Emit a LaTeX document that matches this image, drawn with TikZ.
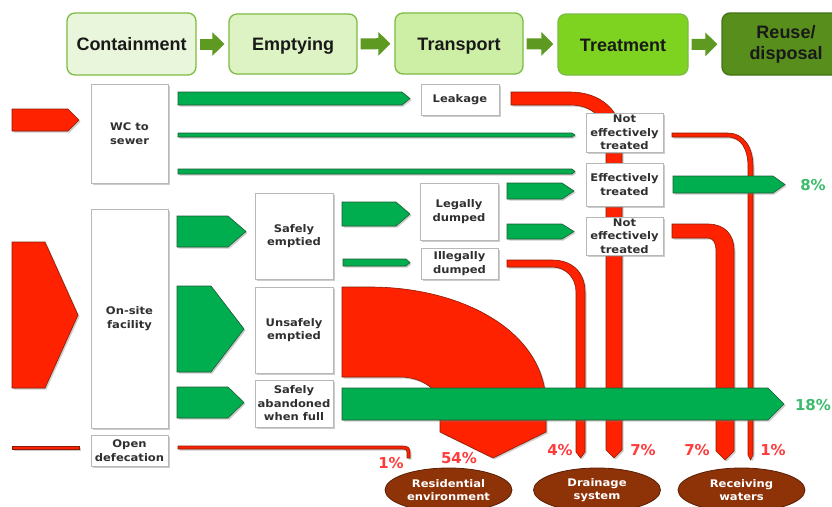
\documentclass[tikz,border=0pt]{standalone}
\usepackage{fontspec}
\setmainfont{DejaVu Sans}
\newfontfamily\hdrfont{Liberation Sans}
\newfontfamily\boxfont{DejaVu Sans}[FakeStretch=1.1]
\usetikzlibrary{shapes.geometric,shadows,arrows.meta}
\definecolor{gF}{HTML}{00AD4F}
\definecolor{gD}{HTML}{1F5C33}
\definecolor{rF}{HTML}{FF2200}
\definecolor{rD}{HTML}{8A1A05}
\definecolor{pR}{HTML}{FF3B3B}
\definecolor{pG}{HTML}{3DBB6C}
\definecolor{brn}{HTML}{8E3208}
\definecolor{brnD}{HTML}{5A1F05}
\definecolor{boxT}{HTML}{303030}
\definecolor{boxB}{HTML}{B8B8B8}
\definecolor{stB}{HTML}{7DBB42}
\definecolor{hA}{HTML}{5E9A22}
\definecolor{fCont}{HTML}{EAF6DC}
\definecolor{fEmpt}{HTML}{DDF3C4}
\definecolor{fTrans}{HTML}{CDEEA5}
\definecolor{fTreat}{HTML}{7ED321}
\definecolor{fReuse}{HTML}{578E1C}
\tikzset{
  shd/.style={drop shadow={shadow xshift=1.5pt,shadow yshift=-1.5pt,opacity=0.4}},
  flowG/.style={fill=gF,draw=gD,line width=0.6pt,shd},
  flowR/.style={fill=rF,draw=rD,line width=0.6pt,shd},
  box/.style={draw=boxB,line width=0.8pt,fill=white,shd,inner sep=0pt,align=center,text=boxT,
    font=\boxfont\bfseries\fontsize{10.5}{13.5}\selectfont},
  stage/.style={rounded corners=8pt,line width=1.3pt,draw=stB,inner sep=0pt,align=center,text=black!90,
    font=\hdrfont\bfseries\fontsize{18}{21}\selectfont},
  oneline/.style={text height=13pt,text depth=0pt},
  harr/.style={draw=hA,line width=11pt,-{Triangle[length=12pt,width=23pt]},shorten <=3pt,shorten >=4pt},
  sink/.style={ellipse,fill=brn,draw=brnD,line width=0.8pt,text=white,align=center,inner sep=0pt,
    minimum width=127pt,minimum height=44pt,font=\boxfont\bfseries\fontsize{10.5}{13.5}\selectfont},
  pctR/.style={text=pR,font=\bfseries\fontsize{15}{15}\selectfont},
  pctG/.style={text=pG,font=\bfseries\fontsize{15}{15}\selectfont},
}
\newcommand\flowarrow[6]{\draw[#1] (#2,#3) -- ({#4-#6},#3) -- (#4,{(#3+#5)/2}) -- ({#4-#6},#5) -- (#2,#5) -- cycle;}
\begin{document}
\begin{tikzpicture}[x=1pt,y=-1pt]
\fill[white] (0,0) rectangle (832,506);
\clip (0,0) rectangle (832,506);

% ---- stage header ----
\node[stage,oneline,fill=fCont,minimum width=129pt,minimum height=62pt] (cont) at (131.5,44) {Containment};
\node[stage,oneline,fill=fEmpt,minimum width=128pt,minimum height=60pt] (empt) at (293,44) {Emptying};
\node[stage,oneline,fill=fTrans,minimum width=128pt,minimum height=61pt] (trans) at (459,43.5) {Transport};
\node[stage,oneline,fill=fTreat,minimum width=130pt,minimum height=61pt] (treat) at (623,44.5) {Treatment};
\node[stage,fill=fReuse,draw=fReuse!80!black,minimum width=128pt,minimum height=62pt] (reuse) at (786,44) {Reuse/\\disposal};
\draw[harr] (cont) -- (empt);
\draw[harr] (empt) -- (trans);
\draw[harr] (trans) -- (treat);
\draw[harr] (treat) -- (reuse);

% ---- red flows (below everything) ----
% leakage
\draw[flowR] (511,92) -- (570,92) .. controls (600,92) and (622,110) .. (622,140) -- (622,450) -- (614,458) -- (606,450) -- (606,140) .. controls (606,118) and (592,105) .. (570,105) -- (511,105) -- cycle;
% not effectively treated (sewer) -> receiving waters
\draw[flowR] (672,133) -- (727,133) .. controls (745,133) and (753,148) .. (753,167) -- (753,455) -- (750.5,460) -- (748,455) -- (748,167) .. controls (748,150) and (742,137) .. (727,137) -- (672,137) -- cycle;
% not effectively treated (FS) -> receiving waters
\draw[flowR] (672,224) -- (708,224) .. controls (724,224) and (734,234) .. (734,250) -- (734,451) -- (725,460) -- (716,451) -- (716,250) .. controls (716,243) and (713,238) .. (708,238) -- (672,238) -- cycle;
% illegally dumped -> drainage
\draw[flowR] (507,260) -- (552,260) .. controls (572,260) and (585,272) .. (585,292) -- (585,452) -- (580.5,458) -- (576,452) -- (576,292) .. controls (576,278) and (566,267) .. (552,267) -- (507,267) -- cycle;
% unsafely emptied -> residential environment
\draw[flowR] (342,287) -- (370,287) .. controls (460,287) and (546,330) .. (546,405) -- (546,432) -- (493,458) -- (440,432) -- (440,400) .. controls (436,388) and (420,377) .. (400,377) -- (342,377) -- cycle;
% open defecation
\draw[flowR] (12,446) rectangle (79,449);
\draw[flowR] (178,446) -- (403,446) .. controls (408,446) and (410,448) .. (410,452) -- (410,458) -- (407,458) -- (407,452) .. controls (407,450) and (406,449) .. (403,449) -- (178,449) -- cycle;
% inputs
\flowarrow{flowR}{12}{109}{79}{131}{11}
\flowarrow{flowR}{12}{242}{78}{388}{33}

% ---- green flows ----
\flowarrow{flowG}{178}{92}{410}{105}{8}
\flowarrow{flowG}{178}{133}{575}{137}{3}
\flowarrow{flowG}{178}{169}{575}{174}{3}
\flowarrow{flowG}{673}{176}{785}{193}{12}
\flowarrow{flowG}{507}{183}{574}{199}{12}
\flowarrow{flowG}{507}{224}{574}{239}{12}
\flowarrow{flowG}{177}{216}{246}{247}{18}
\flowarrow{flowG}{177}{286}{244}{372}{33}
\flowarrow{flowG}{177}{387}{244}{418}{16}
\flowarrow{flowG}{342}{202}{410}{226}{14}
\flowarrow{flowG}{343}{259}{410}{266}{4}
\flowarrow{flowG}{342}{388}{784}{420}{16}

% ---- boxes ----
\node[box,minimum width=77pt,minimum height=99pt] (wc) at (129.5,133.5) {WC to\\sewer};
\node[box,minimum width=77pt,minimum height=219pt] (onsite) at (129.5,318.5) {On-site\\facility};
\node[box,minimum width=77pt,minimum height=31pt] (opend) at (129.5,450.5) {Open\\defecation};
\node[box,minimum width=78pt,minimum height=86pt] (safe) at (294,236) {Safely\\emptied};
\node[box,minimum width=78pt,minimum height=86pt] (unsafe) at (294,330) {Unsafely\\emptied};
\node[box,minimum width=78pt,minimum height=47pt] (aband) at (294,403.5) {Safely\\abandoned\\when full};
\node[box,minimum width=78pt,minimum height=31pt] (leak) at (460,99.5) {Leakage};
\node[box,minimum width=78pt,minimum height=57pt] (legal) at (459,211.5) {Legally\\dumped};
\node[box,minimum width=77pt,minimum height=31pt] (illegal) at (459.5,263.5) {Illegally\\dumped};
\node[box,minimum width=77pt,minimum height=39pt] (net1) at (624.5,132.5) {Not\\effectively\\treated};
\node[box,minimum width=77pt,minimum height=43pt] (eff) at (624.5,184.5) {Effectively\\treated};
\node[box,minimum width=77pt,minimum height=38pt] (net2) at (624.5,236) {Not\\effectively\\treated};

% ---- sinks ----
\node[sink] (res) at (448.5,490) {Residential\\environment};
\node[sink] (drain) at (597,490) {Drainage\\system};
\node[sink] (recv) at (741.5,490) {Receiving\\waters};

% ---- percentages ----
\node[pctR] (p1a) at (391,463) {1\%};
\node[pctR] (p54) at (459,458) {54\%};
\node[pctR] (p4) at (560,450) {4\%};
\node[pctR] (p7a) at (643,450) {7\%};
\node[pctR] (p7b) at (697,450) {7\%};
\node[pctR] (p1b) at (773,450) {1\%};
\node[pctG] (p8) at (813,185) {8\%};
\node[pctG] (p18) at (813,405) {18\%};
\end{tikzpicture}
\end{document}
